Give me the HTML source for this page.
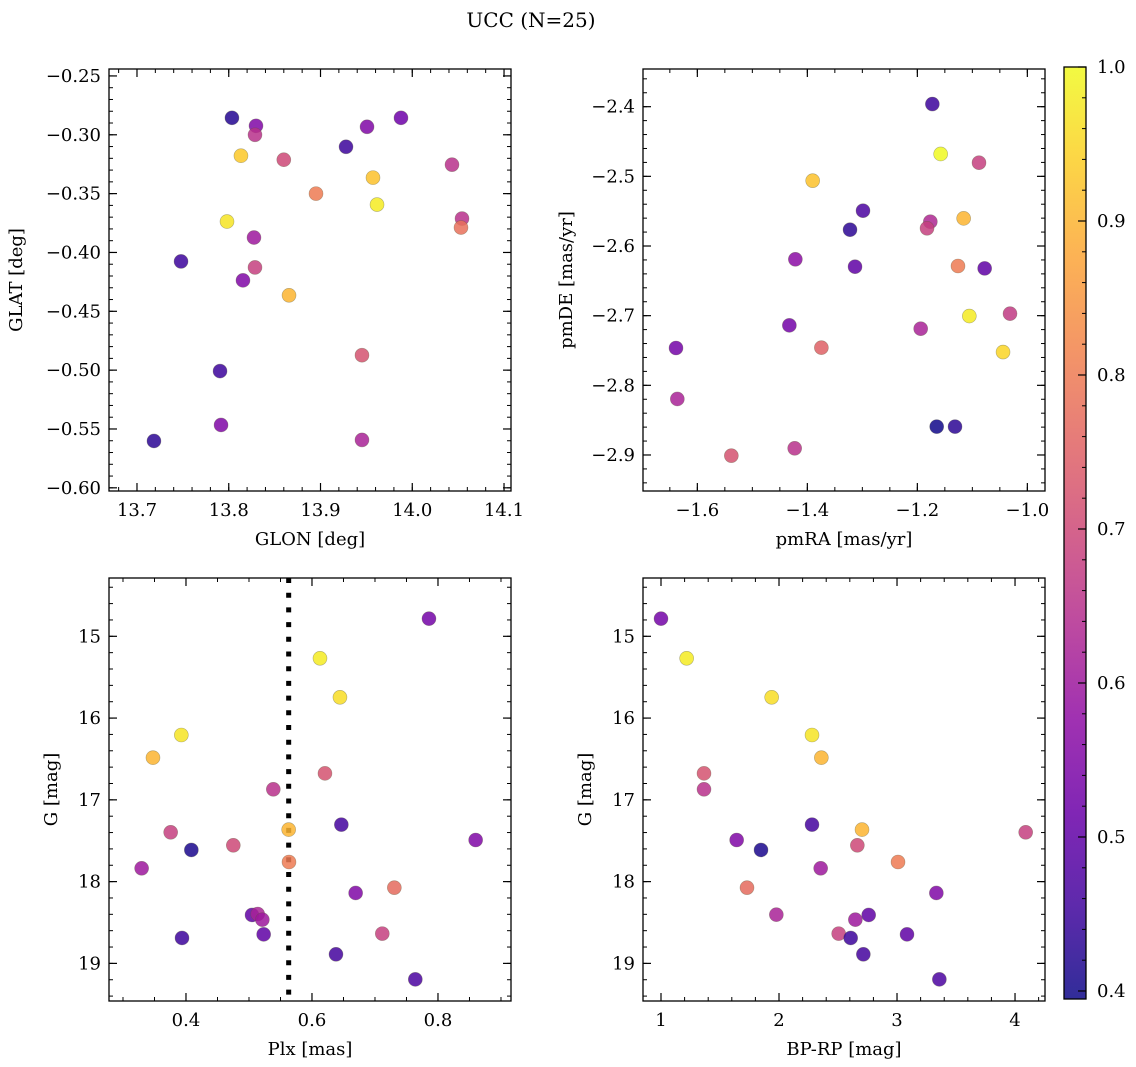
<!DOCTYPE html>
<html><head><meta charset="utf-8">
<style>
html,body{margin:0;padding:0;background:#fff;}
svg{display:block;font-family:"DejaVu Serif","Liberation Serif",serif;}
</style></head>
<body>
<svg id="fig" width="1136" height="1067" viewBox="0 0 1136 1067" xmlns="http://www.w3.org/2000/svg">
<rect width="1136" height="1067" fill="#fff"/>
<text x="531" y="27" font-size="20" text-anchor="middle" fill="#000">UCC (N=25)</text>
</svg>
<script>
// Panel 1: GLON vs GLAT
const glon1 = [13.8035,13.8297,13.8286,13.8133,13.860,13.9278,13.9507,13.9877,14.0433,13.9572,13.8951,13.9616,13.7981,14.0542,14.0531,13.8275,13.748,13.8286,13.8155,13.8657,13.9452,13.7905,13.7916,13.7185,13.9452];
const glat1 = [-0.2856,-0.2924,-0.300,-0.3178,-0.3212,-0.3102,-0.2932,-0.2856,-0.3254,-0.3364,-0.350,-0.3593,-0.3737,-0.3712,-0.3788,-0.3873,-0.4076,-0.4127,-0.4237,-0.4364,-0.4873,-0.5008,-0.5466,-0.5602,-0.5593];
const prob1 = [0.42,0.55,0.65,0.93,0.70,0.45,0.55,0.52,0.65,0.92,0.80,0.98,0.97,0.65,0.78,0.60,0.45,0.68,0.55,0.90,0.72,0.45,0.55,0.43,0.62];
// Panel 2: pmRA vs pmDE
const pmra2 = [-1.1727,-1.1576,-1.0879,-1.3903,-1.2988,-1.1158,-1.1764,-1.1824,-1.3224,-1.4218,-1.3133,-1.1261,-1.0776,-1.0315,-1.1055,-1.4327,-1.1939,-1.6388,-1.3745,-1.0442,-1.6364,-1.1648,-1.1315,-1.423,-1.5382];
const pmde2 = [-2.3962,-2.4679,-2.4804,-2.5062,-2.5493,-2.5603,-2.5651,-2.5746,-2.5766,-2.6191,-2.6297,-2.6287,-2.6321,-2.6971,-2.7005,-2.7139,-2.7187,-2.7464,-2.7459,-2.7522,-2.8196,-2.8593,-2.8593,-2.8904,-2.9010];
const prob2 = [0.45,1.0,0.68,0.92,0.47,0.90,0.63,0.68,0.43,0.57,0.50,0.80,0.50,0.67,0.98,0.53,0.62,0.53,0.75,0.95,0.62,0.40,0.43,0.65,0.72];
// Panel 3: Plx vs G
const plx3 = [0.7857,0.6127,0.6444,0.3926,0.3476,0.6206,0.5386,0.6466,0.563,0.8598,0.3757,0.4085,0.4751,0.5635,0.3296,0.7307,0.6693,0.5048,0.5138,0.5212,0.5233,0.7116,0.3937,0.6381,0.764];
const g3 = [14.784,15.269,15.746,16.207,16.484,16.676,16.871,17.303,17.364,17.491,17.397,17.613,17.556,17.76,17.837,18.074,18.139,18.408,18.396,18.465,18.645,18.636,18.689,18.889,19.195];
const prob3 = [0.53,0.98,0.96,0.97,0.90,0.72,0.65,0.46,0.90,0.55,0.68,0.41,0.70,0.80,0.60,0.77,0.55,0.50,0.62,0.60,0.50,0.68,0.45,0.46,0.47];
const plxLine = [0.563];
// Panel 4: BP-RP vs G
const bprp4 = [1.0,1.2175,1.9379,2.2797,2.3588,1.3644,1.3644,2.2797,2.7034,4.0904,1.6412,1.8475,2.6638,3.0085,2.3531,1.7288,3.3333,2.7599,1.9774,2.6469,3.0847,2.5056,2.6073,2.7147,3.3588];
const g4 = [14.784,15.269,15.746,16.207,16.484,16.676,16.871,17.303,17.364,17.397,17.491,17.613,17.556,17.76,17.837,18.074,18.139,18.408,18.404,18.465,18.645,18.636,18.689,18.889,19.195];
const prob4 = [0.53,0.98,0.96,0.97,0.90,0.72,0.65,0.46,0.90,0.68,0.55,0.41,0.70,0.80,0.60,0.77,0.55,0.50,0.62,0.60,0.50,0.68,0.45,0.46,0.47];
// Tick labels
const ticks1x = [13.7,13.8,13.9,14.0,14.1];
const ticks1y = [-0.25,-0.30,-0.35,-0.40,-0.45,-0.50,-0.55,-0.60];
const ticks2x = [-1.6,-1.4,-1.2,-1.0];
const ticks2y = [-2.4,-2.5,-2.6,-2.7,-2.8,-2.9];
const ticks3x = [0.4,0.6,0.8];
const ticksGy = [15,16,17,18,19];
const ticks4x = [1,2,3,4];
const ticksCb = [0.4,0.5,0.6,0.7,0.8,0.9,1.0];

const VMIN = 0.3948, VMAX = 1.0;
const plasma = [[13,8,135],[65,4,157],[106,0,168],[143,13,164],[177,42,144],[204,71,120],[225,100,98],[242,132,75],[252,166,54],[252,206,37],[240,249,33]];
function cmap(v){
  let t=(v-VMIN)/(VMAX-VMIN); t=Math.max(0,Math.min(1,t));
  const f=t*10, i=Math.min(9,Math.floor(f)), r=f-i;
  const a=plasma[i], b=plasma[i+1];
  const c=[0,1,2].map(k=>Math.round(a[k]+(b[k]-a[k])*r));
  return 'rgb('+c.join(',')+')';
}
const NS='http://www.w3.org/2000/svg';
const svg=document.getElementById('fig');
function el(tag,attrs,parent){const e=document.createElementNS(NS,tag);for(const k in attrs)e.setAttribute(k,attrs[k]);(parent||svg).appendChild(e);return e;}
function fmt(v,d){const s=Math.abs(v).toFixed(d);return (v<0?'\u2212':'')+s;}

function panel(name,box,xr,yr,xt,yt,xminor,yminor,xd,yd,xlab,ylab,xs,ys,ps,ylx,invert,vline){
  const [L,T,R,B]=box;
  const g=el('g',{});
  
  
  const X=v=>L+(v-xr[0])/(xr[1]-xr[0])*(R-L);
  const Y=invert? v=>T+(v-yr[0])/(yr[1]-yr[0])*(B-T) : v=>B-(v-yr[0])/(yr[1]-yr[0])*(B-T);
  const xlo=Math.min(...xr), xhi=Math.max(...xr);
  for(let v=Math.ceil(xlo/xminor)*xminor; v<=xhi+1e-9; v+=xminor){
    const x=X(v);
    el('line',{x1:x,x2:x,y1:B,y2:B-4,stroke:'#000','stroke-width':1},g);
    el('line',{x1:x,x2:x,y1:T,y2:T+4,stroke:'#000','stroke-width':1},g);
  }
  const ylo=Math.min(...yr), yhi=Math.max(...yr);
  for(let v=Math.ceil(ylo/yminor)*yminor; v<=yhi+1e-9; v+=yminor){
    const y=Y(v);
    el('line',{x1:L,x2:L+4,y1:y,y2:y,stroke:'#000','stroke-width':1},g);
    el('line',{x1:R,x2:R-4,y1:y,y2:y,stroke:'#000','stroke-width':1},g);
  }
  xt.forEach(v=>{
    const x=X(v);
    el('line',{x1:x,x2:x,y1:B,y2:B-8,stroke:'#000','stroke-width':1.2},g);
    el('line',{x1:x,x2:x,y1:T,y2:T+8,stroke:'#000','stroke-width':1.2},g);
    const t=el('text',{x:x,y:B+25,'font-size':18,'text-anchor':'middle',fill:'#000'},g);
    
    
    t.textContent=fmt(v,xd);
  });
  yt.forEach(v=>{
    const y=Y(v);
    el('line',{x1:L,x2:L+8,y1:y,y2:y,stroke:'#000','stroke-width':1.2},g);
    el('line',{x1:R,x2:R-8,y1:y,y2:y,stroke:'#000','stroke-width':1.2},g);
    const t=el('text',{x:L-8,y:y+6,'font-size':18,'text-anchor':'end',fill:'#000'},g);
    
    
    t.textContent=fmt(v,yd);
  });
  if(vline){
    const x=X(vline[0]);
    const ln=el('line',{x1:x,x2:x,y1:T,y2:B,stroke:'#000','stroke-width':5,'stroke-dasharray':'5 9.7'},g);
    
    
  }
  xs.forEach((v,i)=>{
    const c=el('circle',{cx:X(v),cy:Y(ys[i]),r:7,fill:cmap(ps[i]),'fill-opacity':0.85,stroke:'rgba(90,90,60,0.45)','stroke-width':0.6},g);
    
    
  });
  el('rect',{x:L,y:T,width:R-L,height:B-T,fill:'none',stroke:'#000','stroke-width':1.3},g);
  const xl=el('text',{x:(L+R)/2,y:B+54,'font-size':18,'text-anchor':'middle',fill:'#000'},g);
  
  
  xl.textContent=xlab;
  const cy=(T+B)/2;
  const yl=el('text',{x:ylx,y:cy,'font-size':18,'text-anchor':'middle',fill:'#000',transform:'rotate(-90 '+ylx+' '+cy+')'},g);
  
  
  yl.textContent=ylab;
}

panel('panel-glon-glat',[109,69,511,491],[13.6695,14.1076],[-0.6027,-0.2441],ticks1x,ticks1y,0.02,0.01,1,2,'GLON [deg]','GLAT [deg]',glon1,glat1,prob1,22,false,null);
panel('panel-pmra-pmde',[643,69,1045,491],[-1.6988,-0.9679],[-2.9517,-2.3459],ticks2x,ticks2y,0.05,0.02,1,1,'pmRA [mas/yr]','pmDE [mas/yr]',pmra2,pmde2,prob2,572,false,null);
panel('panel-plx-g',[109,578,511,1001],[0.2778,0.9159],[14.287,19.46],ticks3x,ticksGy,0.05,0.2,1,0,'Plx [mas]','G [mag]',plx3,g3,prob3,57,true,plxLine);
panel('panel-bprp-g',[643,578,1045,1001],[0.8475,4.254],[14.287,19.46],ticks4x,ticksGy,0.2,0.2,0,0,'BP-RP [mag]','G [mag]',bprp4,g4,prob4,591,true,null);

// Colorbar
(function(){
  const L=1064,R=1086,T=67,B=999;
  const cb=el('g',{});
  
  
  const defs=el('defs',{},cb);
  const grad=el('linearGradient',{id:'cbgrad',x1:0,y1:1,x2:0,y2:0},defs);
  for(let i=0;i<=20;i++){
    const v=VMIN+(VMAX-VMIN)*i/20;
    el('stop',{offset:(i/20),'stop-color':cmap(v),'stop-opacity':0.85},grad);
  }
  el('rect',{x:L,y:T,width:R-L,height:B-T,fill:'url(#cbgrad)'},cb);
  const Yc=v=>B-(v-VMIN)/(VMAX-VMIN)*(B-T);
  for(let v=0.40; v<=1.0001; v+=0.02){
    const y=Yc(v);
    el('line',{x1:R,x2:R-4,y1:y,y2:y,stroke:'#000','stroke-width':1},cb);
  }
  ticksCb.forEach(v=>{
    const y=Yc(v);
    el('line',{x1:R,x2:R-8,y1:y,y2:y,stroke:'#000','stroke-width':1.2},cb);
    const t=el('text',{x:R+11,y:y+6,'font-size':18,fill:'#000'},cb);
    
    
    t.textContent=v.toFixed(1);
  });
  el('rect',{x:L,y:T,width:R-L,height:B-T,fill:'none',stroke:'#000','stroke-width':1.3},cb);
})();
</script>
</body></html>
